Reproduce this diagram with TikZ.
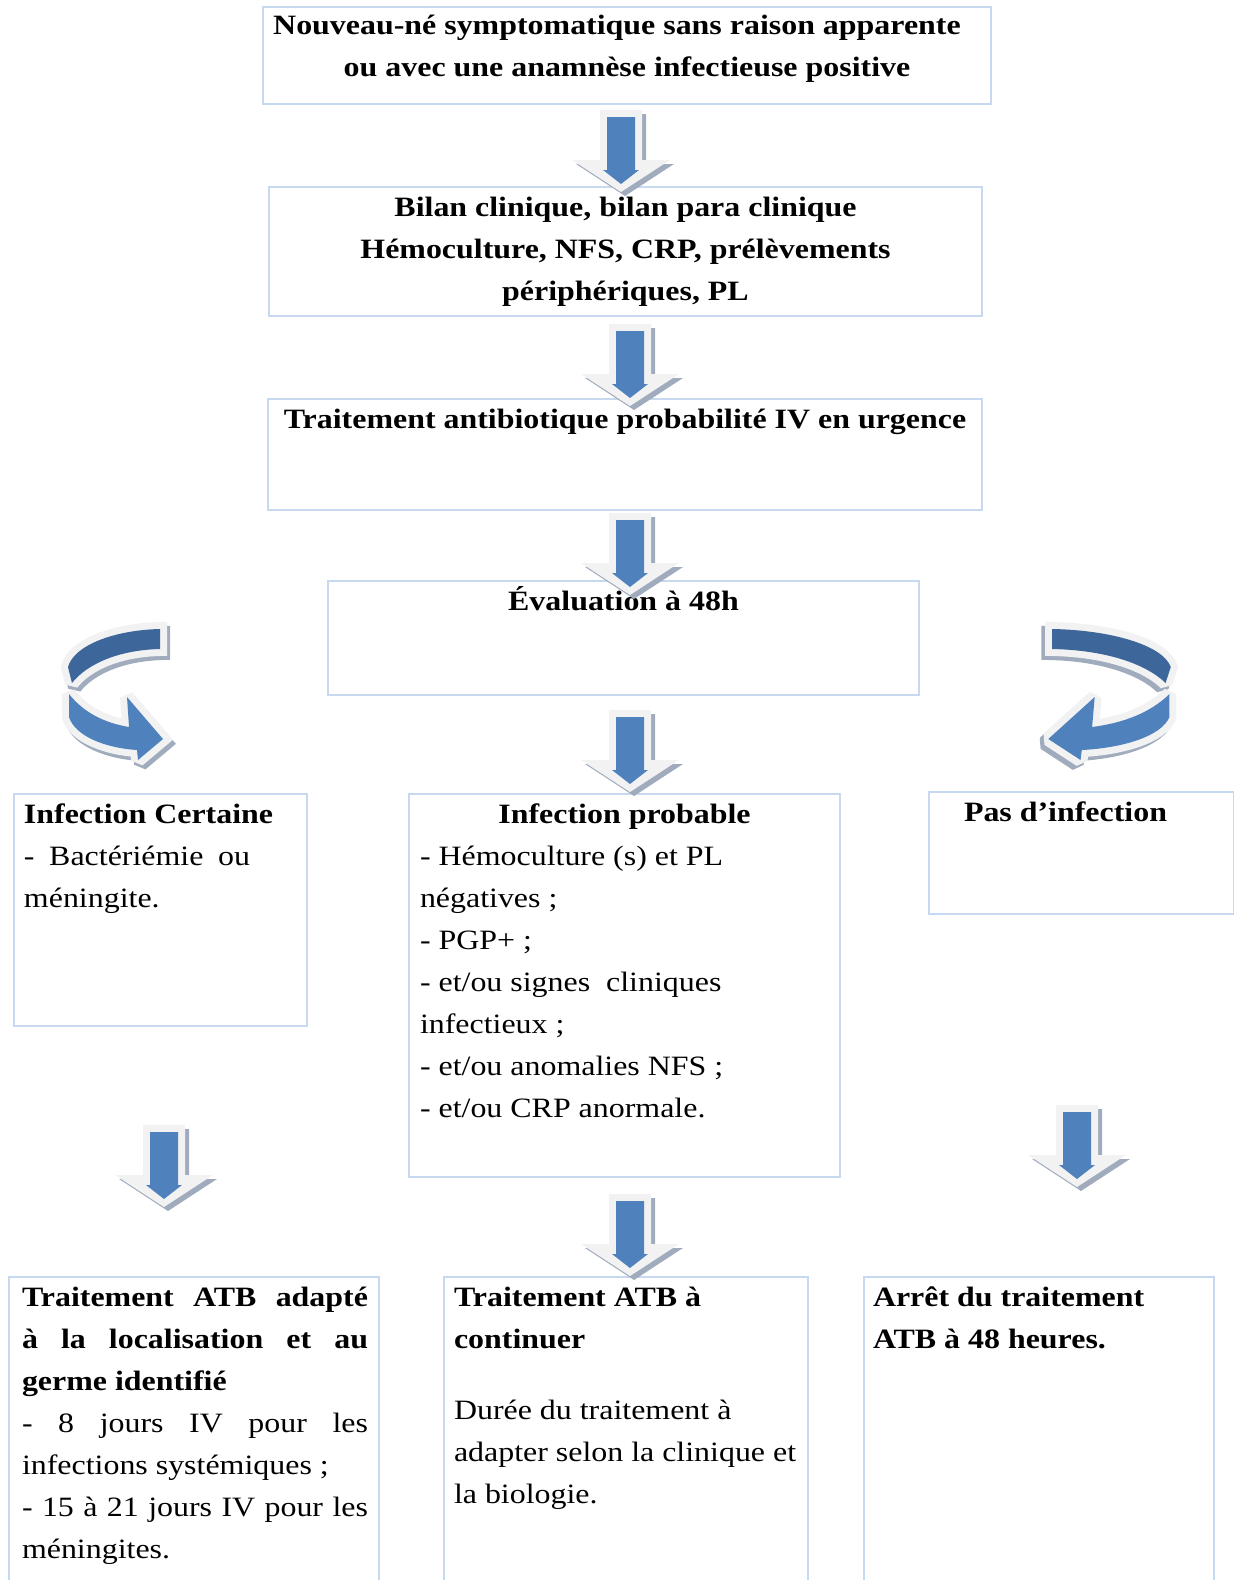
\documentclass[tikz,border=0pt]{standalone}
\usepackage{fontspec}
\setmainfont{Liberation Serif}[FakeStretch=1.14]
\usetikzlibrary{calc}

\definecolor{boxline}{RGB}{198,217,241}
\definecolor{arrowblue}{RGB}{79,129,189}
\definecolor{darkblue}{RGB}{61,103,155}
\definecolor{outline}{RGB}{242,242,242}
\definecolor{shadowc}{RGB}{160,172,190}

\newcommand{\topstrut}{\rule{0pt}{14.5pt}}
\newcommand{\inbox}[3]{\parbox[c][#1][t]{#2}{#3}}

\tikzset{
    infobox/.style={draw=boxline, line width=1pt, inner sep=0pt, anchor=north west,
                    font=\fontsize{14}{21}\selectfont}, % every framed text
    dband/.style={insert path={(160,629) .. controls (115,630) and (74,645) .. (68,667)
                  -- (72,683) .. controls (88,663) and (120,650) .. (160,649) -- cycle}},
    lband/.style={insert path={(69,694) .. controls (84,713) and (105,723) .. (129,727)
                  -- (127,697) -- (163,739) -- (138,760) -- (137,750)
                  .. controls (105,748) and (75,736) .. (69,717) -- cycle}},
    % straight block arrow, origin = top of the shaft
    dnarrow/.pic={
        \fill[shadowc, shift={(4,4)}] (-21,0) -- (21,0) -- (21,50) -- (49,50) -- (0,82) -- (-49,50) -- (-21,50) -- cycle;
        \fill[outline] (-21,0) -- (21,0) -- (21,50) -- (49,50) -- (0,82) -- (-49,50) -- (-21,50) -- cycle;
        \fill[arrowblue] (-14,7) -- (14,7) -- (14,60) -- (18,60) -- (0,74) -- (-18,60) -- (-14,60) -- cycle;
    },
    % curved u-turn arrow
    uturn/.pic={
        \begin{scope}[shift={(3,4)}]
            \path[fill=shadowc, draw=shadowc, line width=7pt, line join=miter, miter limit=1.6, dband];
            \path[fill=shadowc, draw=shadowc, line width=7pt, line join=miter, miter limit=1.6, lband];
        \end{scope}
        \path[fill=outline, draw=outline, line width=7pt, line join=miter, miter limit=1.6, dband];
        \path[fill=outline, draw=outline, line width=7pt, line join=miter, miter limit=1.6, lband];
        \fill[darkblue, dband];
        \fill[arrowblue, lband];
    },
}

\begin{document}
\begin{tikzpicture}[x=0.5pt, y=-0.5pt]
    \useasboundingbox (0,0) rectangle (1234,1580);

    % boxes
    \node[infobox] (start) at (262,5.5) {\inbox{48.75pt}{364pt}{\centering\bfseries\rule{0pt}{14pt}Nouveau-né symptomatique sans raison apparente\rule{10pt}{0pt}\\
        ou avec une anamnèse infectieuse positive}};
    \node[infobox] (bilan) at (268,186) {\inbox{64.5pt}{356.5pt}{\centering\bfseries\topstrut Bilan clinique, bilan para clinique\\
        Hémoculture, NFS, CRP, prélèvements\\
        périphériques, PL}};
    \node[infobox] (atb) at (267,398) {\inbox{55.5pt}{357pt}{\centering\bfseries\topstrut Traitement antibiotique probabilité IV en urgence}};
    \node[infobox] (eval) at (327,580) {\inbox{57pt}{295.5pt}{\centering\bfseries\topstrut Évaluation à 48h}};

    \node[infobox] (certaine) at (13,793) {\inbox{116pt}{146.5pt}{\raggedright\leftskip=5pt\topstrut\textbf{Infection Certaine}\\
        \makebox[113pt][s]{- Bactériémie ou}\\
        méningite.}};
    \node[infobox] (probable) at (408,793) {\inbox{191.5pt}{215.5pt}{\centering\topstrut\textbf{Infection probable}\par
        \raggedright\leftskip=5.5pt - Hémoculture (s) et PL\\
        négatives ;\\
        - PGP+ ;\\
        - et/ou signes\ \ cliniques\\
        infectieux ;\\
        - et/ou anomalies NFS ;\\
        - et/ou CRP anormale.}};
    \node[infobox] (aucune) at (928,791) {\inbox{61pt}{152.5pt}{\raggedright\leftskip=17.5pt\topstrut\textbf{Pas d’infection}}};

    \node[infobox] (adapte) at (8,1276) {\inbox{160pt}{185pt}{\raggedright\leftskip=6.5pt\topstrut\makebox[173pt][s]{\textbf{Traitement ATB adapté}}\\
        \makebox[173pt][s]{\textbf{à la localisation et au}}\\
        \textbf{germe identifié}\\
        \makebox[173pt][s]{- 8 jours IV pour les}\\
        infections systémiques ;\\
        \makebox[173pt][s]{- 15 à 21 jours IV pour les}\\
        méningites.}};
    \node[infobox] (continuer) at (443,1276) {\inbox{160pt}{182pt}{\raggedright\leftskip=5pt\topstrut\textbf{Traitement ATB à}\\
        \textbf{continuer}\\[14.5pt]
        Durée du traitement à\\
        adapter selon la clinique et\\
        la biologie.}};
    \node[infobox] (arret) at (863,1276) {\inbox{160pt}{175pt}{\raggedright\leftskip=4.5pt\topstrut\textbf{Arrêt du traitement}\\
        \textbf{ATB à 48 heures.}}};

    % block arrows
    \pic at ($(start.south)+(-6,5)$) {dnarrow};
    \pic at ($(bilan.south)+(4.5,7)$) {dnarrow};
    \pic at ($(atb.south)+(5,2)$) {dnarrow};
    \pic at ($(eval.south)+(6.5,14)$) {dnarrow};
    \pic at ($(certaine.south)+(3.5,98)$) {dnarrow};
    \pic at ($(probable.south)+(5.5,16)$) {dnarrow};
    \pic at ($(aucune.south)+(-4.5,190)$) {dnarrow};

    % curved arrows
    \pic at (0,0) {uturn};
    \pic[xscale=-1.289] at (1258.4,0) {uturn};
\end{tikzpicture}
\end{document}
